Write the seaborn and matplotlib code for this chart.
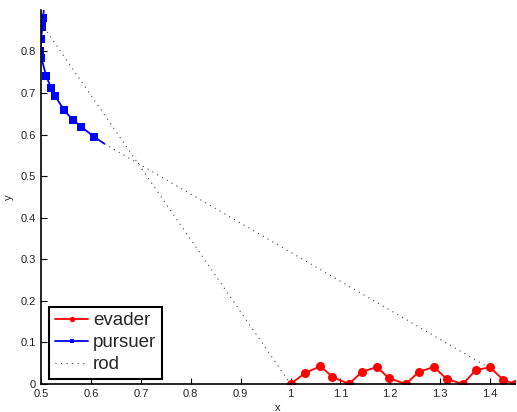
import matplotlib
matplotlib.use('Agg')
import matplotlib.pyplot as plt
import seaborn as sns
import pandas as pd
from matplotlib.ticker import FuncFormatter

# evader 궤적 (빨간 점)
evader_x = [1.000, 1.030, 1.060, 1.084, 1.117, 1.143, 1.173, 1.197, 1.231,
            1.257, 1.287, 1.313, 1.345, 1.372, 1.400, 1.426, 1.450]
evader_y = [0.000, 0.027, 0.043, 0.017, 0.000, 0.029, 0.041, 0.014, 0.000,
            0.029, 0.041, 0.012, 0.000, 0.034, 0.040, 0.010, 0.000]

# pursuer 궤적 (파란 사각형)
pursuer_x = [0.506, 0.504, 0.502, 0.503, 0.500, 0.499, 0.501, 0.504, 0.510,
             0.520, 0.528, 0.535, 0.546, 0.554, 0.564, 0.580, 0.590, 0.606, 0.627]
pursuer_y = [0.905, 0.880, 0.872, 0.860, 0.829, 0.800, 0.785, 0.770, 0.742,
             0.713, 0.694, 0.680, 0.660, 0.648, 0.636, 0.619, 0.610, 0.595, 0.578]
pursuer_marks = [1, 2, 3, 4, 5, 6, 8, 9, 10, 12, 14, 15, 17]

# rod (점선) 시작/끝
rod1_x = [0.506, 1.000]
rod1_y = [0.858, 0.000]
rod2_x = [0.627, 1.392]
rod2_y = [0.578, 0.043]

sns.set_style('ticks')
plt.rcParams['font.family'] = ['Liberation Sans', 'DejaVu Sans']

fig = plt.figure(figsize=(5.17, 4.12), dpi=100)
ax = fig.add_axes([0.0793, 0.068, 0.917, 0.908])

ev = pd.DataFrame({'x': evader_x, 'y': evader_y})
pu = pd.DataFrame({'x': pursuer_x, 'y': pursuer_y})

sns.lineplot(data=ev, x='x', y='y', sort=False, estimator=None, ax=ax,
             color='red', lw=1.3, marker='o', markersize=6.5,
             markeredgewidth=0, label='evader')
sns.lineplot(data=pu, x='x', y='y', sort=False, estimator=None, ax=ax,
             color='blue', lw=1.3, marker='s', markersize=6,
             markeredgewidth=0, markevery=pursuer_marks, label='pursuer')
sns.lineplot(x=rod1_x, y=rod1_y, sort=False, estimator=None, ax=ax,
             color='0.25', lw=0.8, linestyle=(0, (1, 4)), label='rod')
sns.lineplot(x=rod2_x, y=rod2_y, sort=False, estimator=None, ax=ax,
             color='0.25', lw=0.8, linestyle=(0, (1, 4)), label='_nolegend_')

ax.set_xlim(0.5, 1.45)
ax.set_ylim(0, 0.9)
ax.set_xticks([0.5, 0.6, 0.7, 0.8, 0.9, 1.0, 1.1, 1.2, 1.3, 1.4])
ax.set_yticks([0, 0.1, 0.2, 0.3, 0.4, 0.5, 0.6, 0.7, 0.8])
fmt = FuncFormatter(lambda v, p: '%g' % round(v, 2))
ax.xaxis.set_major_formatter(fmt)
ax.yaxis.set_major_formatter(fmt)
ax.tick_params(direction='in', length=4, width=0.8, labelsize=8,
               colors='black', labelcolor='#222222')
ax.set_xlabel('x', fontsize=8, labelpad=3)
ax.set_ylabel('y', fontsize=8)
ax.yaxis.set_label_coords(-0.058, 0.5)
for s in ['top', 'right']:
    ax.spines[s].set_visible(False)
ax.spines['left'].set_linewidth(1.2)
ax.spines['bottom'].set_linewidth(1.2)
ax.spines['left'].set_color('black')
ax.spines['bottom'].set_color('black')

leg = ax.legend(loc='lower left', bbox_to_anchor=(0.017, 0.014), fontsize=13.5,
                fancybox=False, framealpha=1, edgecolor='black',
                handlelength=1.8, handletextpad=0.25, borderpad=0.3,
                labelspacing=0.25, borderaxespad=0, markerscale=0.6)
leg.get_frame().set_linewidth(1.5)

fig.savefig('out.png', dpi=100)
